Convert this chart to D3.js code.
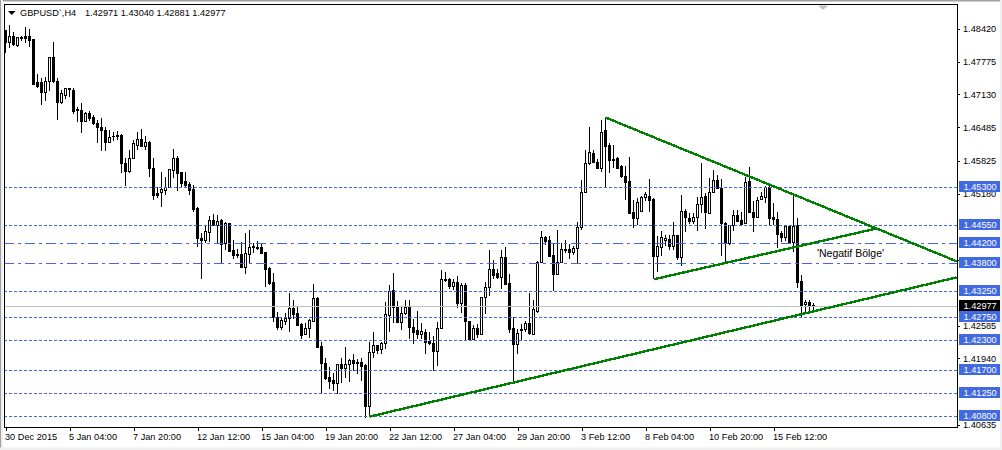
<!DOCTYPE html>
<html>
<head>
<meta charset="utf-8">
<script src="https://cdnjs.cloudflare.com/ajax/libs/d3/7.8.5/d3.min.js"></script>
<style>
html, body { margin: 0; padding: 0; background: #fff; overflow: hidden; }
svg { display: block; }
text { font-family: "Liberation Sans", sans-serif; font-size: 9.2px; fill: #000; }
</style>
</head>
<body>
<svg id="chart" width="1002" height="450"></svg>
<script>
// Candles, one value per H4 bar
const opens = [
1.48380,1.48144,1.48262,1.48085,1.48223,1.48262,1.48262,1.48203,1.47356,1.47356,
1.47159,1.47376,1.47848,1.47376,1.46962,1.47100,1.47238,1.47198,1.46824,1.46804,
1.46607,1.46745,1.46667,1.46568,1.46489,1.46430,1.46194,1.46312,1.46332,1.46332,
1.45780,1.45622,1.45878,1.46135,1.46253,1.46115,1.46194,1.45681,1.45189,1.45209,
1.45248,1.45307,1.45642,1.45878,1.45602,1.45425,1.45366,1.45268,1.44893,1.44302,
1.44263,1.44421,1.44657,1.44559,1.44657,1.44204,1.44598,1.44066,1.43988,1.43988,
1.43731,1.43988,1.44145,1.44125,1.44125,1.44027,1.43711,1.43436,1.42746,1.42549,
1.42667,1.42726,1.42923,1.42825,1.42608,1.42411,1.42529,1.42667,1.43120,1.42175,
1.41840,1.41564,1.41505,1.41446,1.41820,1.41741,1.41820,1.41899,1.41860,1.41860,
1.41800,1.40993,1.42057,1.42195,1.42116,1.42234,1.42785,1.43278,1.42943,1.42648,
1.42825,1.42943,1.42549,1.42490,1.42411,1.42451,1.42273,1.42234,1.42076,1.42529,
1.43495,1.43495,1.43357,1.43436,1.43022,1.43376,1.42667,1.42313,1.42529,1.42411,
1.43140,1.43337,1.43692,1.43613,1.43534,1.43928,1.43416,1.42529,1.42214,1.42510,
1.42510,1.42628,1.42411,1.42864,1.43829,1.44322,1.44263,1.43968,1.43593,1.43829,
1.44086,1.44086,1.44027,1.44105,1.44519,1.45209,1.45780,1.45977,1.45800,1.45681,
1.46411,1.46135,1.45858,1.45878,1.45721,1.45524,1.45425,1.44815,1.44696,1.44835,
1.45110,1.45130,1.45071,1.43948,1.44125,1.44263,1.44283,1.44145,1.44362,1.43928,
1.44835,1.44696,1.44637,1.44716,1.44972,1.45130,1.44795,1.45209,1.45445,1.45287,
1.44598,1.44204,1.44559,1.44756,1.44657,1.44598,1.45425,1.44815,1.44716,1.45071,
1.45110,1.45307,1.44716,1.44677,1.44401,1.44322,1.44539,1.44224,1.44559,1.43455,
1.43002,1.43041,1.42971];
const highs = [
1.48400,1.48498,1.48361,1.48262,1.48282,1.48459,1.48420,1.48203,1.47533,1.47454,
1.47474,1.47848,1.48164,1.47454,1.47218,1.47257,1.47257,1.47257,1.46883,1.46962,
1.46785,1.46804,1.46726,1.46627,1.46667,1.46489,1.46430,1.46391,1.46411,1.46351,
1.45878,1.46036,1.46233,1.46391,1.46450,1.46312,1.46213,1.45878,1.45307,1.45602,
1.45504,1.45662,1.46056,1.45918,1.45602,1.45602,1.45405,1.45346,1.44913,1.44401,
1.44539,1.44736,1.44775,1.44756,1.44677,1.44618,1.44598,1.44263,1.44086,1.44224,
1.44401,1.44460,1.44204,1.44243,1.44204,1.44027,1.43731,1.43613,1.42845,1.42746,
1.42825,1.43219,1.43081,1.42943,1.42628,1.42628,1.42707,1.43396,1.43140,1.42254,
1.41958,1.41781,1.41663,1.41840,1.41958,1.42175,1.41938,1.42037,1.41938,1.41958,
1.41840,1.42254,1.42470,1.42214,1.42254,1.43041,1.43376,1.43613,1.43061,1.42943,
1.43081,1.43081,1.42707,1.42864,1.42628,1.42529,1.42470,1.42372,1.42648,1.43672,
1.43632,1.43515,1.43495,1.43554,1.43416,1.43416,1.42667,1.42589,1.42608,1.43140,
1.43436,1.44066,1.43869,1.43692,1.44066,1.44125,1.43593,1.42746,1.42529,1.42608,
1.42667,1.43219,1.43081,1.43849,1.44440,1.44342,1.44342,1.44204,1.44460,1.44204,
1.44263,1.44184,1.44145,1.44618,1.45445,1.46036,1.46489,1.46036,1.45858,1.46627,
1.46667,1.46174,1.46135,1.45898,1.45741,1.45721,1.45898,1.45051,1.45090,1.45130,
1.45209,1.45465,1.45090,1.44342,1.44440,1.44362,1.44362,1.44618,1.44362,1.45150,
1.44874,1.44795,1.44795,1.45110,1.45780,1.45189,1.45484,1.45642,1.45543,1.45465,
1.44618,1.44559,1.44854,1.44854,1.44815,1.45504,1.45701,1.45031,1.45110,1.45209,
1.45327,1.45386,1.44992,1.44815,1.44440,1.44559,1.44559,1.45150,1.44696,1.43574,
1.43081,1.43081,1.43040];
const lows = [
1.47947,1.48045,1.48085,1.48065,1.48183,1.48144,1.48065,1.47317,1.47257,1.46922,
1.47001,1.47198,1.47356,1.46627,1.46942,1.47041,1.47080,1.46745,1.46588,1.46371,
1.46588,1.46607,1.46529,1.46174,1.46016,1.46016,1.46174,1.46213,1.46233,1.45583,
1.45327,1.45583,1.45878,1.46036,1.46115,1.46036,1.45504,1.45051,1.45090,1.44913,
1.45150,1.45287,1.45484,1.45228,1.45287,1.45287,1.45150,1.44815,1.44125,1.43495,
1.44204,1.44224,1.44539,1.44184,1.43810,1.44066,1.44027,1.43889,1.43909,1.43711,
1.43593,1.43810,1.44007,1.44066,1.43988,1.43337,1.43376,1.42648,1.42490,1.42490,
1.42589,1.42451,1.42707,1.42569,1.42332,1.42392,1.42352,1.42648,1.42155,1.41269,
1.41525,1.41347,1.41308,1.41249,1.41466,1.41564,1.41486,1.41702,1.41643,1.41505,
1.40776,1.40796,1.41958,1.42037,1.42037,1.42135,1.42470,1.42628,1.42628,1.42490,
1.42785,1.42313,1.42234,1.42332,1.42313,1.42037,1.42214,1.41702,1.41800,1.42510,
1.43436,1.43298,1.43278,1.42923,1.42825,1.42293,1.42293,1.42313,1.42352,1.42392,
1.42805,1.43160,1.43495,1.43495,1.43298,1.43376,1.42431,1.41486,1.42037,1.42293,
1.42470,1.42411,1.42392,1.42825,1.43829,1.44165,1.43948,1.43258,1.43574,1.43810,
1.44007,1.43889,1.43968,1.43810,1.44460,1.45209,1.45741,1.45780,1.45662,1.45602,
1.45287,1.45583,1.45681,1.45681,1.45484,1.45051,1.44795,1.44499,1.44559,1.44835,
1.45031,1.44815,1.43515,1.43632,1.43948,1.44145,1.44066,1.44066,1.43869,1.43751,
1.44421,1.44578,1.44578,1.44440,1.44795,1.44480,1.44795,1.45209,1.45268,1.43948,
1.43829,1.44165,1.44440,1.44618,1.44559,1.44598,1.44815,1.44421,1.44716,1.45051,
1.44992,1.44559,1.44559,1.44105,1.44224,1.44243,1.44184,1.44027,1.43317,1.42746,
1.42825,1.42845,1.42881];
const closes = [
1.48144,1.48262,1.48105,1.48242,1.48242,1.48223,1.48183,1.47317,1.47277,1.47159,
1.47376,1.47848,1.47376,1.46962,1.47139,1.47238,1.47218,1.46785,1.46804,1.46607,
1.46745,1.46647,1.46549,1.46470,1.46411,1.46194,1.46292,1.46302,1.46312,1.45780,
1.45622,1.45878,1.46174,1.46253,1.46115,1.46194,1.45681,1.45150,1.45150,1.45268,
1.45307,1.45662,1.45878,1.45583,1.45386,1.45346,1.45248,1.44874,1.44302,1.44263,
1.44440,1.44657,1.44559,1.44637,1.44184,1.44598,1.44047,1.43968,1.43968,1.43731,
1.44007,1.44125,1.44125,1.44105,1.44007,1.43692,1.43416,1.42746,1.42549,1.42687,
1.42726,1.42923,1.42805,1.42589,1.42392,1.42529,1.42687,1.43120,1.42155,1.41840,
1.41545,1.41486,1.41446,1.41820,1.41741,1.41820,1.41899,1.41840,1.41840,1.41781,
1.40993,1.42057,1.42195,1.42096,1.42234,1.42805,1.43258,1.42943,1.42648,1.42825,
1.42943,1.42549,1.42451,1.42411,1.42470,1.42254,1.42234,1.42076,1.42529,1.43495,
1.43475,1.43357,1.43436,1.43022,1.43376,1.42667,1.42313,1.42529,1.42411,1.43140,
1.43337,1.43692,1.43574,1.43534,1.43928,1.43396,1.42510,1.42214,1.42431,1.42490,
1.42628,1.42431,1.42904,1.43829,1.44322,1.44243,1.43948,1.43593,1.43829,1.44086,
1.44066,1.44027,1.44105,1.44519,1.45209,1.45780,1.45997,1.45800,1.45681,1.46391,
1.46115,1.45839,1.45839,1.45681,1.45524,1.45405,1.44795,1.44696,1.45011,1.45110,
1.45169,1.45051,1.43948,1.44145,1.44322,1.44302,1.44145,1.44362,1.43928,1.44835,
1.44716,1.44637,1.44716,1.44972,1.45110,1.44815,1.45209,1.45445,1.45287,1.44598,
1.44204,1.44559,1.44756,1.44637,1.44578,1.45405,1.44815,1.44716,1.45051,1.45130,
1.45307,1.44696,1.44677,1.44381,1.44322,1.44539,1.44204,1.44539,1.43436,1.42982,
1.43041,1.42962,1.42977];

// Time labels sit every 16 bars
const timeLabels = ["30 Dec 2015", "5 Jan 04:00", "7 Jan 20:00", "12 Jan 12:00", "15 Jan 04:00",
  "19 Jan 20:00", "22 Jan 12:00", "27 Jan 04:00", "29 Jan 20:00", "3 Feb 12:00",
  "8 Feb 04:00", "10 Feb 20:00", "15 Feb 12:00"];
const priceTicks = [1.48420, 1.47775, 1.47130, 1.46485, 1.45825, 1.45180, 1.43870,
  1.42585, 1.41940, 1.40635];

// Horizontal levels drawn by hand on the chart
const dashedLevels = [1.45300, 1.44550, 1.43250, 1.42750, 1.42300, 1.41700, 1.41250, 1.40800];
const dashDotLevels = [1.44200, 1.43800];
const lastPrice = 1.42977;

// Trend lines as [bar, price] ends
const trendLines = [
  [[91, 1.40796], [237.8, 1.43534]],
  [[150, 1.46676], [237.8, 1.43849]],
  [[162, 1.43495], [218, 1.44499]]
];

const chartTitle = "GBPUSD`,H4";
const ohlcText = "1.42971 1.43040 1.42881 1.42977";
const noteText = "'Negatif Bölge'";

const blue = "#4169e1";
const green = "#008000";
const margin = { top: 4, right: 45, bottom: 23, left: 4 };
const width = 1002, height = 450;

const svg = d3.select("#chart");

const x = d3.scaleLinear().domain([0, 1]).range([5.5, 9.5]);
const y = d3.scaleLinear().domain([1.40593, 1.48907]).range([height - margin.bottom, margin.top]);

// pixel row a level line falls on
const levelRow = v => Math.floor(y(v)) + 0.5;
const lastRow = Math.ceil(y(lastPrice)) + 0.5;

// window frame
svg.append("rect").attr("width", width).attr("height", height).attr("fill", "#fff");
svg.append("rect").attr("width", width).attr("height", 1.5).attr("fill", "#a0a0a0");
svg.append("rect").attr("width", 3).attr("height", height).attr("fill", "#f0f0f0");
svg.append("rect").attr("width", 1).attr("height", height).attr("fill", "#a0a0a0");
svg.append("rect").attr("y", 447.5).attr("width", width).attr("height", 2.5).attr("fill", "#f0f0f0");
svg.append("rect").attr("x", 1000).attr("width", 2).attr("height", height).attr("fill", "#f0f0f0");

// candles
const bars = d3.range(opens.length).map(i => ({
  i, o: opens[i], h: highs[i], l: lows[i], c: closes[i]
}));

const candles = svg.append("g").attr("shape-rendering", "crispEdges");

candles.selectAll(".wick")
  .data(bars)
  .enter().append("line")
  .attr("class", "wick")
  .attr("x1", d => x(d.i))
  .attr("x2", d => x(d.i))
  .attr("y1", d => y(d.h))
  .attr("y2", d => y(d.l))
  .attr("stroke", "#000");

candles.selectAll(".body")
  .data(bars)
  .enter().append("rect")
  .attr("class", "body")
  .attr("x", d => x(d.i) - 1)
  .attr("width", 2)
  .attr("y", d => y(Math.max(d.o, d.c)))
  .attr("height", d => Math.max(Math.abs(y(d.o) - y(d.c)), 0.5))
  .attr("fill", d => d.c >= d.o ? "#fff" : "#000")
  .attr("stroke", "#000");

// levels
const levels = svg.append("g");

levels.append("line")
  .attr("x1", x(-0.2)).attr("x2", width - margin.right)
  .attr("y1", lastRow).attr("y2", lastRow)
  .attr("stroke", "#c0c0c0");

levels.selectAll(".dashed")
  .data(dashedLevels)
  .enter().append("line")
  .attr("class", "dashed")
  .attr("x1", margin.left).attr("x2", width - margin.right)
  .attr("y1", levelRow).attr("y2", levelRow)
  .attr("stroke", blue)
  .attr("stroke-dasharray", "3,2");

levels.selectAll(".dashdot")
  .data(dashDotLevels)
  .enter().append("line")
  .attr("class", "dashdot")
  .attr("x1", margin.left).attr("x2", width - margin.right)
  .attr("y1", levelRow).attr("y2", levelRow)
  .attr("stroke", blue)
  .attr("stroke-dasharray", "10,4,3,4");

// trend lines
svg.append("g").selectAll("line")
  .data(trendLines)
  .enter().append("line")
  .attr("x1", d => x(d[0][0]))
  .attr("y1", d => y(d[0][1]))
  .attr("x2", d => x(d[1][0]))
  .attr("y2", d => y(d[1][1]))
  .attr("stroke", green)
  .attr("stroke-width", 2.4)
  .attr("shape-rendering", "crispEdges");

svg.append("text")
  .attr("x", 817).attr("y", 257)
  .style("font-size", "10.5px")
  .text(noteText);

// plot border
svg.append("rect")
  .attr("x", margin.left + 0.5).attr("y", margin.top + 0.5)
  .attr("width", width - margin.left - margin.right - 0.5)
  .attr("height", height - margin.top - margin.bottom)
  .attr("fill", "none").attr("stroke", "#000")
  .attr("shape-rendering", "crispEdges");

// shift marker on the top edge
svg.append("path")
  .attr("d", "M818,5.5 L828,5.5 L823,10 Z")
  .attr("fill", "#c0c0c0");

// price axis
const yAxis = d3.axisRight(y).tickValues(priceTicks).tickSize(3).tickPadding(3)
  .tickFormat(d3.format(".5f"));
svg.append("g")
  .attr("transform", `translate(${width - margin.right},0)`)
  .call(yAxis)
  .call(g => g.select(".domain").remove())
  .call(g => g.selectAll("line").attr("shape-rendering", "crispEdges"))
  .attr("font-size", null).attr("font-family", null);

// level labels on the price axis
const tags = svg.append("g");
dashedLevels.concat(dashDotLevels).forEach(v => priceTag(v, levelRow(v), blue));
priceTag(lastPrice, lastRow, "#000");

function priceTag(v, row, color) {
  tags.append("rect")
    .attr("x", 959).attr("y", row - 6.5).attr("width", 41).attr("height", 11)
    .attr("fill", color);
  tags.append("text")
    .attr("x", 963.5).attr("y", row + 2.5)
    .style("fill", "#fff")
    .text(d3.format(".5f")(v));
}

// time axis
const xAxis = d3.axisBottom(x)
  .tickValues(timeLabels.map((d, i) => i * 16))
  .tickSize(4)
  .tickPadding(2)
  .tickFormat((d, i) => timeLabels[i]);
svg.append("g")
  .attr("transform", `translate(0,${height - margin.bottom})`)
  .call(xAxis)
  .call(g => g.select(".domain").remove())
  .call(g => g.selectAll("text").attr("text-anchor", "start").attr("dx", -1))
  .call(g => g.selectAll("line").attr("shape-rendering", "crispEdges"))
  .attr("font-size", null).attr("font-family", null);

// header
svg.append("path").attr("d", "M8,11 L15.5,11 L11.75,15 Z").attr("fill", "#000");
svg.append("text").attr("x", 20).attr("y", 16).text(chartTitle);
svg.append("text").attr("x", 85).attr("y", 16).text(ohlcText);
</script>
</body>
</html>
